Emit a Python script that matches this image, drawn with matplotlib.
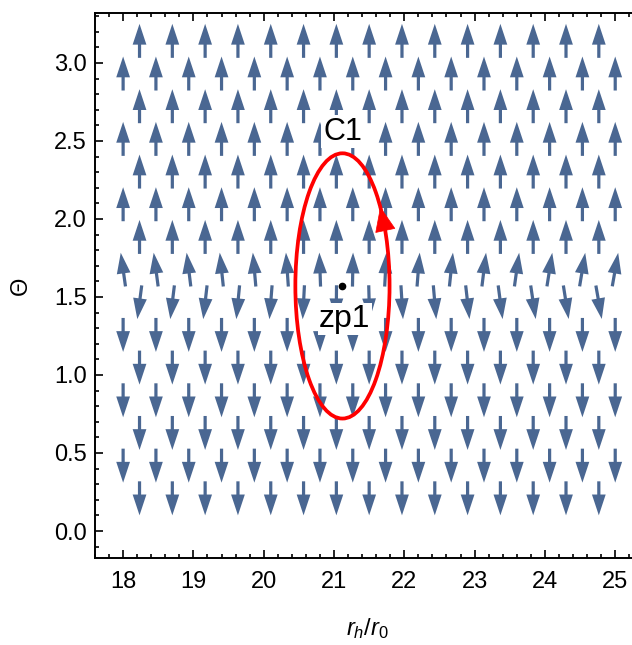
import numpy as np
import matplotlib
matplotlib.use("Agg")
import matplotlib.pyplot as plt
from matplotlib.patches import Ellipse
from matplotlib.ticker import MultipleLocator, FormatStrFormatter

plt.rcParams["font.family"] = ["Liberation Sans", "DejaVu Sans"]
plt.rcParams["mathtext.fontset"] = "custom"
plt.rcParams["mathtext.it"] = "Liberation Sans:italic"
plt.rcParams["mathtext.rm"] = "Liberation Sans"

# sample points of the unit vector field (staggered grid)
x_even = np.linspace(18.0, 25.0, 16)
x_odd = (x_even[:-1] + x_even[1:]) / 2
theta_rows = np.arange(1, 16) * np.pi / 15

# lean of the arrows (degrees, + = towards larger r_h) in the two rows next to theta = pi/2
tilt_row8 = [-8, -7.5, -7, -6, -5, -4, -2, 1, 3, 4.5, 6, 7, 8, 9, 9.5, 10]
tilt_row7 = [-7.5, -7, -6.5, -5.5, -4.5, -3, -0.5, 1.5, 3.5, 5, 6.5, 7.5, 8.5, 9, 10]

# zero point and the contour around it
zp1 = (21.12, np.pi / 2)
c1_center = (21.12, np.pi / 2)
c1_semi_axes = (0.67, 0.85)
c1_arrow_params = (0.44, 0.64)   # parametric angles of arrow base and tip

arrow_color = "#4a6792"
arrow_len_px = 34

x_lo, x_hi = 17.6, 25.35
px_per_unit = 70.3

fig = plt.figure(figsize=(6.32, 6.45), dpi=100)
ax = fig.add_axes([95 / 632, 87 / 645, (x_hi - x_lo) * px_per_unit / 632, 545 / 645])

X, Y, U, V = [], [], [], []
for k, th in enumerate(theta_rows, start=1):
    xs = x_odd if k % 2 == 1 else x_even
    if k == 8:
        tilts = tilt_row8
    elif k == 7:
        tilts = tilt_row7
    else:
        tilts = [0.0] * len(xs)
    for x, t in zip(xs, tilts):
        if th > np.pi / 2:
            ang = np.deg2rad(90 - t)
        else:
            ang = np.deg2rad(-90 + t)
        X.append(x)
        Y.append(th)
        U.append(np.cos(ang))
        V.append(np.sin(ang))

ax.quiver(X, Y, U, V, angles="uv", scale_units="dots", scale=1 / arrow_len_px,
          units="dots", width=3.2, headwidth=4.3, headlength=6.5,
          headaxislength=6.5, pivot="middle", color=arrow_color, zorder=2)

a, b = c1_semi_axes
ax.add_patch(Ellipse(c1_center, 2 * a, 2 * b, fill=False, edgecolor="red",
                     linewidth=2.7, zorder=4))
t0, t1 = c1_arrow_params
base = (c1_center[0] + a * np.cos(t0), c1_center[1] + b * np.sin(t0))
tip = (c1_center[0] + a * np.cos(t1), c1_center[1] + b * np.sin(t1))
ax.annotate("", xy=tip, xytext=base,
            arrowprops=dict(arrowstyle="-|>,head_length=0.6,head_width=0.25",
                            mutation_scale=28, color="red", lw=0.5,
                            shrinkA=0, shrinkB=0), zorder=5)

ax.plot(*zp1, "o", color="black", ms=4.5, zorder=5)
ax.text(21.12, 2.56, "C1", fontsize=22, ha="center", va="center", zorder=3,
        bbox=dict(facecolor="white", edgecolor="none", pad=1))
ax.text(21.15, 1.36, "zp1", fontsize=23, ha="center", va="center", zorder=3,
        bbox=dict(facecolor="white", edgecolor="none", pad=1))

ax.set_xlim(x_lo, x_hi)
ax.set_ylim(-0.173, 3.32)
ax.xaxis.set_major_locator(MultipleLocator(1))
ax.xaxis.set_minor_locator(MultipleLocator(0.2))
ax.yaxis.set_major_locator(MultipleLocator(0.5))
ax.yaxis.set_minor_locator(MultipleLocator(0.1))
ax.yaxis.set_major_formatter(FormatStrFormatter("%.1f"))
ax.tick_params(which="both", direction="in", top=True, right=False, width=1.2,
               labelsize=17)
ax.tick_params(which="major", length=5.5)
ax.tick_params(which="minor", length=2.8)
ax.tick_params(axis="x", pad=9)
ax.tick_params(axis="y", pad=6)
for s in ax.spines.values():
    s.set_linewidth(1.4)
ax.spines["right"].set_visible(False)

ax.set_xlabel(r"$r_h/r_0$", fontsize=17, labelpad=17)
ax.set_ylabel("\u0398", fontsize=17, labelpad=16)

fig.savefig("out.png", dpi=100)
